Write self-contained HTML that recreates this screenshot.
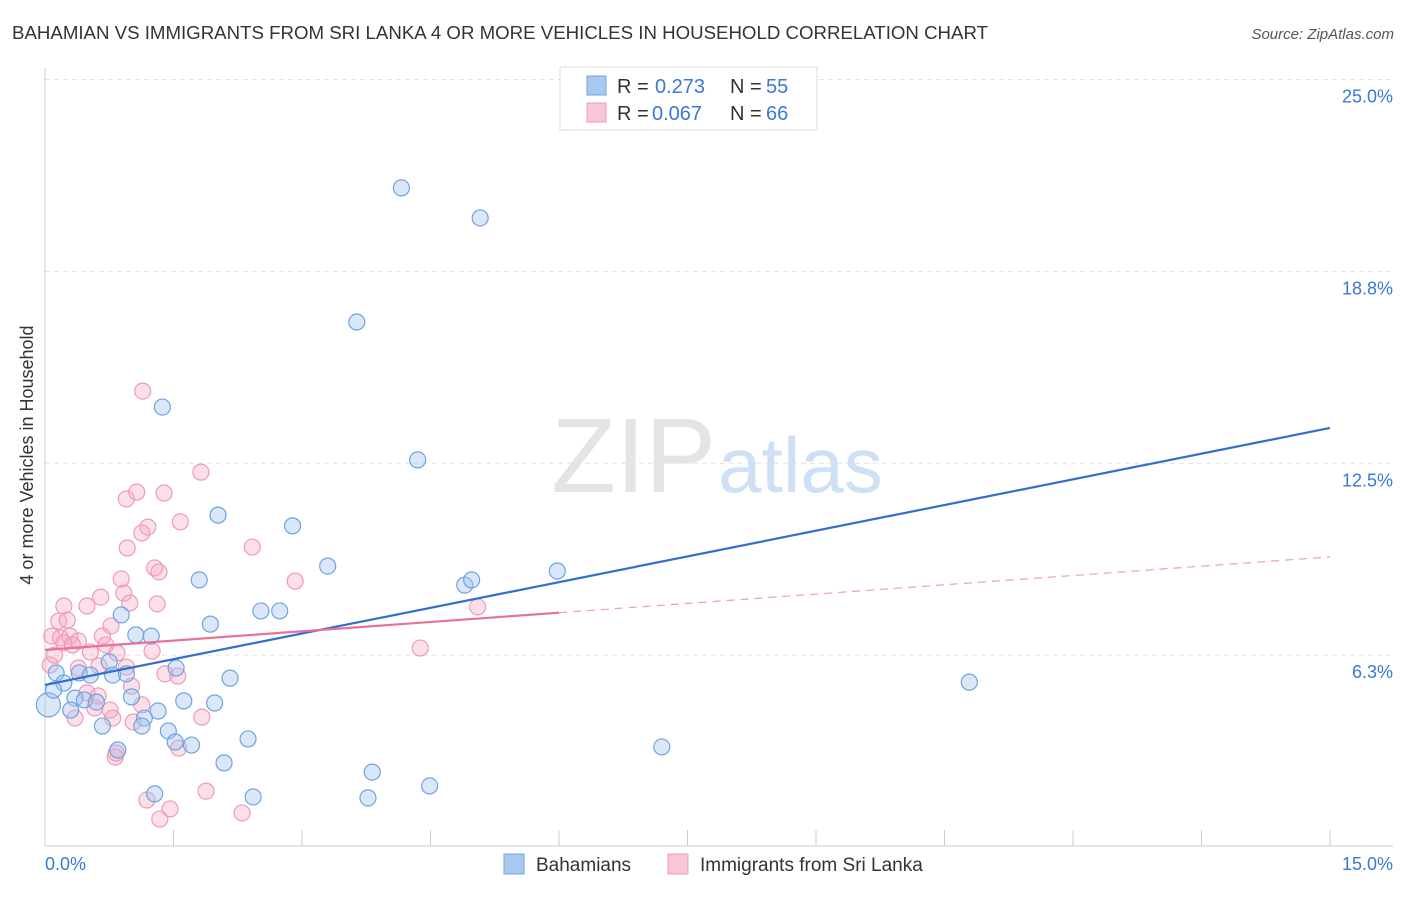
<!DOCTYPE html>
<html><head><meta charset="utf-8"><style>
body{margin:0;background:#fff;font-family:"Liberation Sans",sans-serif;}
svg text{font-family:"Liberation Sans",sans-serif;}
</style></head><body>
<svg width="1406" height="892" viewBox="0 0 1406 892">
<text x="12" y="39" font-size="18" fill="#333" textLength="976" lengthAdjust="spacingAndGlyphs">BAHAMIAN VS IMMIGRANTS FROM SRI LANKA 4 OR MORE VEHICLES IN HOUSEHOLD CORRELATION CHART</text>
<text x="1394" y="39" font-size="15" fill="#555" font-style="italic" text-anchor="end">Source: ZipAtlas.com</text>
<g id="grid"></g>
<text x="716" y="492" font-size="106" fill="#e4e4e4" text-anchor="end" font-family="Liberation Serif">ZIP</text>
<text x="718" y="492" font-size="78" fill="#cfe0f4">atlas</text>
<g id="axes"></g>
<g id="pts"></g>
<g id="lines"></g>
<text x="33" y="455" font-size="18" fill="#333" transform="rotate(-90 33 455)" text-anchor="middle">4 or more Vehicles in Household</text>
<g>
<rect x="560" y="67" width="257" height="63" fill="#fff" stroke="#ddd"/>
<rect x="587" y="76" width="19" height="19" fill="#a9c8f0" stroke="#6fa3e0"/>
<text x="617" y="93" font-size="20" fill="#333">R =</text>
<text x="655" y="93" font-size="20" fill="#3a78d4">0.273</text>
<text x="730" y="93" font-size="20" fill="#333">N =</text>
<text x="766" y="93" font-size="20" fill="#3a78d4">55</text>
<rect x="587" y="103" width="19" height="19" fill="#f8c6d6" stroke="#f09ab8"/>
<text x="617" y="120" font-size="20" fill="#333">R =</text>
<text x="652" y="120" font-size="20" fill="#3a78d4">0.067</text>
<text x="730" y="120" font-size="20" fill="#333">N =</text>
<text x="766" y="120" font-size="20" fill="#3a78d4">66</text>
</g>
<g>
<rect x="504" y="854" width="20" height="20" fill="#a9c8f0" stroke="#6fa3e0"/>
<text x="536" y="871" font-size="19" fill="#333">Bahamians</text>
<rect x="668" y="854" width="20" height="20" fill="#f8c6d6" stroke="#f09ab8"/>
<text x="700" y="871" font-size="19" fill="#333">Immigrants from Sri Lanka</text>
</g>
</svg>
<script>
const yTicks=[6.3,12.5,18.8,25.0];
const yTickVals=[6.25,12.5,18.75,25];
const blueX=[4.16,5.08,3.64,1.37,4.35,2.02,2.89,3.30,5.98,4.90,4.98,1.80,2.52,2.74,0.89,1.93,1.06,1.24,0.75,1.53,0.13,0.22,0.40,0.53,0.79,0.95,2.16,10.79,1.01,1.62,1.98,0.35,0.46,0.60,0.30,1.32,1.16,1.13,0.67,1.44,2.37,1.71,1.52,0.85,7.20,2.09,3.82,4.49,1.28,2.43,3.77,0.04,0.10];
const blueY=[21.47,20.49,17.10,14.33,12.61,10.81,10.46,9.15,8.99,8.53,8.70,8.70,7.69,7.69,7.56,7.26,6.91,6.87,6.03,5.83,5.67,5.34,5.67,5.60,5.60,5.64,5.50,5.37,4.89,4.76,4.69,4.85,4.79,4.72,4.46,4.43,4.20,3.94,3.94,3.78,3.52,3.32,3.42,3.16,3.26,2.74,2.44,1.99,1.73,1.63,1.60,4.63,5.11];
const pinkX=[1.14,1.82,1.39,1.07,0.95,1.58,1.20,1.13,2.42,0.96,1.28,1.33,2.92,0.89,0.92,0.65,5.05,1.31,0.99,0.22,0.49,0.16,0.26,0.77,0.08,0.18,0.29,0.39,0.22,0.32,0.67,0.71,4.38,1.25,0.84,0.53,0.11,0.06,0.39,0.63,0.95,1.40,1.55,1.01,0.49,0.62,1.13,0.58,0.76,1.83,0.35,1.03,0.79,1.56,0.82,0.83,1.88,1.19,1.46,1.34,2.30];
const pinkY=[14.85,12.21,11.53,11.56,11.34,10.59,10.42,10.23,9.77,9.74,9.09,8.96,8.66,8.73,8.27,8.14,7.82,7.92,7.95,7.85,7.85,7.36,7.39,7.20,6.87,6.81,6.87,6.71,6.65,6.58,6.87,6.58,6.48,6.38,6.32,6.35,6.25,5.93,5.83,5.90,5.86,5.64,5.57,5.24,5.02,4.92,4.63,4.53,4.46,4.23,4.20,4.07,4.20,3.22,2.93,3.06,1.82,1.53,1.24,0.91,1.11];
const blueLine=[5.28,13.65];
const pinkLine=[6.42,9.45];
const pinkSolidEnd=6;
const NS='http://www.w3.org/2000/svg';
const sx=v=>45+v*(1285/15), sy=v=>847-v*30.7;
function mk(t,a,p){const e=document.createElementNS(NS,t);for(const k in a)e.setAttribute(k,a[k]);p.appendChild(e);return e;}
const grid=document.getElementById('grid'),axes=document.getElementById('axes'),pts=document.getElementById('pts'),lines=document.getElementById('lines');
yTickVals.forEach((v,i)=>{
 const l=mk('line',{x1:45,x2:1393,y1:sy(v),y2:sy(v),stroke:'#e2e2e2','stroke-dasharray':'5,4'},grid);
 
 
 const t=mk('text',{x:1393,y:sy(v)+23,'font-size':18,fill:'#3a78d4','text-anchor':'end'},axes);
 t.textContent=yTicks[i].toFixed(1)+'%';
 
 
});
mk('line',{x1:45,x2:45,y1:68,y2:846,stroke:'#ccc'},axes);
mk('line',{x1:45,x2:1393,y1:846,y2:846,stroke:'#ccc'},axes);
for(let i=0;i<=10;i++){const x=sx(i*1.5);const tk=mk('line',{x1:x,x2:x,y1:830,y2:846,stroke:'#ccc'},axes);
 
 }
let t0=mk('text',{x:45,y:870,'font-size':18,fill:'#3a78d4'},axes);t0.textContent='0.0%';


let t1=mk('text',{x:1393,y:870,'font-size':18,fill:'#3a78d4','text-anchor':'end'},axes);t1.textContent='15.0%';


pinkX.forEach((x,i)=>{const c=mk('circle',{cx:sx(x),cy:sy(pinkY[i]),r:8,fill:'rgba(245,165,192,0.35)',stroke:'#f09ab8','stroke-width':1.2},pts);
 
 });
blueX.forEach((x,i)=>{const c=mk('circle',{cx:sx(x),cy:sy(blueY[i]),r:i==51?12:8,fill:'rgba(160,196,240,0.4)',stroke:'#6fa3e0','stroke-width':1.2},pts);
 
 });
const bl=mk('line',{x1:sx(0),y1:sy(blueLine[0]),x2:sx(15),y2:sy(blueLine[1]),stroke:'#2f6fd0','stroke-width':2.2},lines);


const pm=pinkLine[0]+(pinkLine[1]-pinkLine[0])*pinkSolidEnd/15;
const pl=mk('line',{x1:sx(0),y1:sy(pinkLine[0]),x2:sx(pinkSolidEnd),y2:sy(pm),stroke:'#e8709a','stroke-width':2.2},lines);


const pd=mk('line',{x1:sx(pinkSolidEnd),y1:sy(pm),x2:sx(15),y2:sy(pinkLine[1]),stroke:'#e8a0b8','stroke-width':1.2,'stroke-dasharray':'8,6'},lines);


</script>
</body></html>
